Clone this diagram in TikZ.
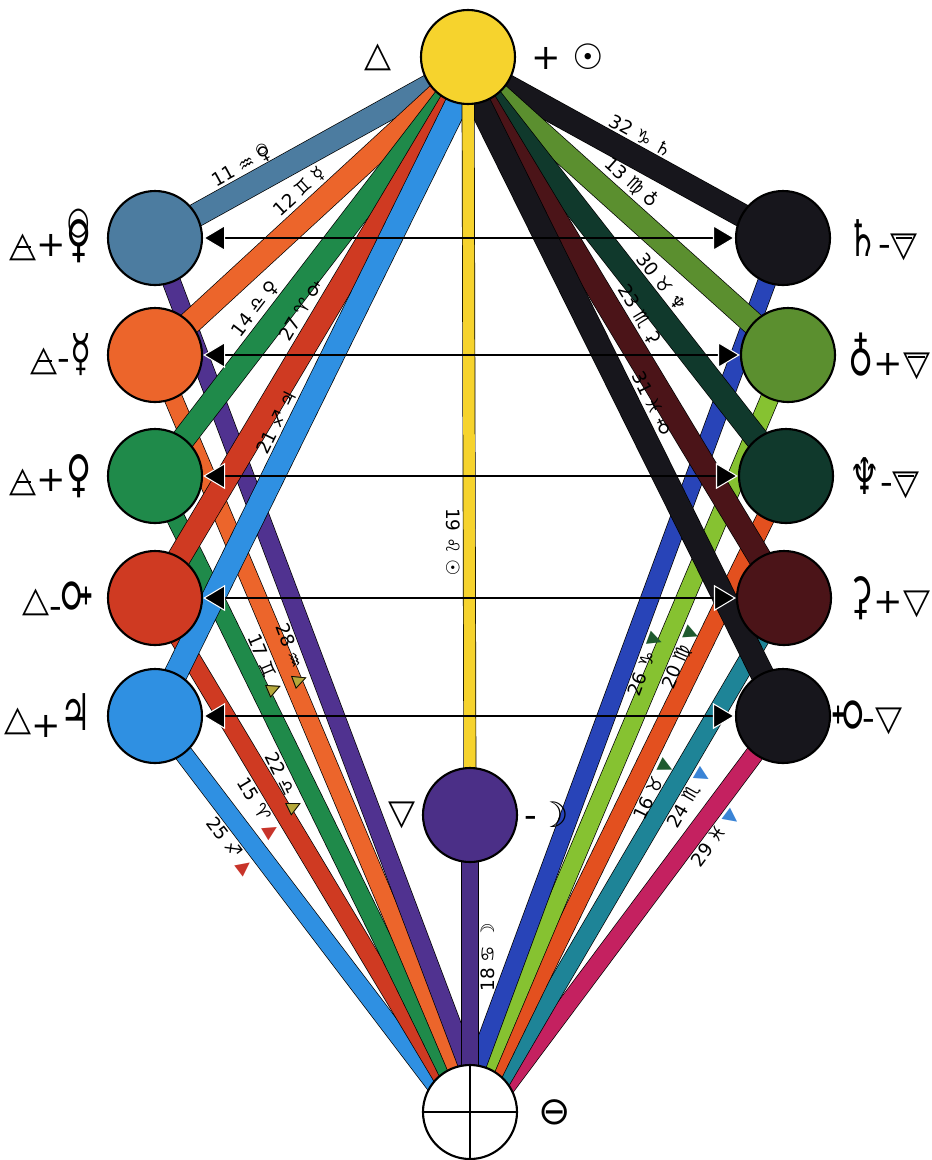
\documentclass[tikz,border=0pt]{standalone}
\usepackage{fontspec}
\setmainfont{DejaVu Sans}
\usepackage{graphicx}
\usetikzlibrary{arrows.meta,positioning,backgrounds}

\definecolor{sunyel}{HTML}{F6D32D}
\definecolor{steelc}{HTML}{4C7CA0}
\definecolor{orangec}{HTML}{EC652B}
\definecolor{greenc}{HTML}{1F8A4A}
\definecolor{redc}{HTML}{CF3A22}
\definecolor{skyc}{HTML}{2F90E2}
\definecolor{nightc}{HTML}{17161C}
\definecolor{olivec}{HTML}{5B8F2F}
\definecolor{pinec}{HTML}{10392C}
\definecolor{winec}{HTML}{4B1418}
\definecolor{moonc}{HTML}{4B2F87}
\definecolor{violetc}{HTML}{503290}
\definecolor{royalc}{HTML}{2844B8}
\definecolor{limec}{HTML}{86C231}
\definecolor{flamec}{HTML}{E3501F}
\definecolor{tealc}{HTML}{1E8497}
\definecolor{rosec}{HTML}{C42160}
\definecolor{airc}{HTML}{B5A83A}
\definecolor{firec}{HTML}{C8342A}
\definecolor{earthc}{HTML}{1E5A2E}
\definecolor{waterc}{HTML}{3A84D6}

\newcommand\airsym{\ooalign{△\cr\hidewidth\rule[.24em]{.42em}{.06em}\hidewidth\cr}}
\newcommand\earthsym{\ooalign{▽\cr\hidewidth\rule[.5em]{.46em}{.06em}\hidewidth\cr}}
\newcommand\bigglyph[1]{{\fontsize{23}{23}\selectfont\scalebox{.85}[1.25]{#1}}}
\newcommand\twoorb{\ooalign{♀\cr\hidewidth\raisebox{.45em}{\scalebox{.75}{○}}\kern.04em\hidewidth\cr}}
\newcommand\orbleft{\rotatebox[origin=c]{90}{♀}}
\newcommand\orbright{\rotatebox[origin=c]{-90}{♀}}
\newcommand\airtri{\ooalign{\textcolor{airc}{▲}\cr△}}
\newcommand\firetri{\textcolor{firec}{▲}}
\newcommand\earthtri{\textcolor{earthc}{▼}}
\newcommand\watertri{\textcolor{waterc}{▼}}

\begin{document}
\begin{tikzpicture}[
  x=0.2mm, y=0.2mm,
  >={Triangle[length=4.4mm, width=5.2mm, fill=black, color=white, line width=0.6pt]},
  orb/.style={circle, draw=black, line width=1.2pt, minimum size=18.8mm, inner sep=0pt, fill=#1},
  band/.style={draw=black, line width=0.4pt, double=#1, double distance=4.5mm},
  thinband/.style={draw=black, line width=0.4pt, double=#1, double distance=3.5mm},
  tag/.style={sloped, font=\fontsize{10.5}{10.5}\selectfont, inner sep=0.5pt, text=black},
  glyph/.style={font=\fontsize{20}{20}\selectfont, inner sep=0pt},
  link/.style={<->, line width=0.55mm}
]
\useasboundingbox (0,0) rectangle (932,-1160);

% the spheres
\node[orb=sunyel] (T) at (468,-57) {};
\node[orb=steelc] (L1) at (155,-238) {};
\node[orb=orangec] (L2) at (155,-355) {};
\node[orb=greenc] (L3) at (155,-476) {};
\node[orb=redc] (L4) at (155,-598) {};
\node[orb=skyc] (L5) at (155,-716) {};
\node[orb=nightc] (R1) at (783,-238) {};
\node[orb=olivec] (R2) at (788,-355) {};
\node[orb=pinec] (R3) at (786,-476) {};
\node[orb=winec] (R4) at (784,-598) {};
\node[orb=nightc] (R5) at (783,-716) {};
\node[orb=moonc] (M) at (470,-815) {};
\node[orb=white] (B) at (470,-1112) {};
\draw[line width=1pt] (B.north) -- (B.south) (B.west) -- (B.east);

% where the upper paths leave the sun sphere
\coordinate (a1) at (440,-80);
\coordinate (a2) at (445,-88);
\coordinate (a3) at (450,-92);
\coordinate (a4) at (455,-95);
\coordinate (a5) at (460,-97);
\coordinate (d1) at (496,-80);
\coordinate (d2) at (491,-88);
\coordinate (d3) at (486,-92);
\coordinate (d4) at (481,-95);
\coordinate (d5) at (476,-97);
% where the lower paths meet the earth sphere
\coordinate (b1) at (485,-1112);
\coordinate (b2) at (475,-1112);
\coordinate (b3) at (467,-1112);
\coordinate (b4) at (463,-1112);
\coordinate (b5) at (456,-1112);
\coordinate (c1) at (460,-1112);
\coordinate (c2) at (468,-1112);
\coordinate (c3) at (475,-1112);
\coordinate (c4) at (483,-1112);
\coordinate (c5) at (487,-1112);

% signs beside the spheres
\node[glyph, left=5.6mm of T] (tl) {△};
\node[glyph, right=3mm of T] (tr) {+ ☉};
\node[glyph, left=3mm of L1] (l1) {\airsym+\bigglyph{\twoorb}};
\node[glyph, left=3mm of L2] (l2) {\airsym-\bigglyph{☿}};
\node[glyph, left=3mm of L3] (l3) {\airsym+\bigglyph{♀}};
\node[glyph, left=3mm of L4] (l4) {△\raisebox{-.2em}{-}\bigglyph{\orbleft}};
\node[glyph, left=3mm of L5] (l5) {△\raisebox{-.2em}{+}\bigglyph{♃}};
\node[glyph, right=3.2mm of R1] (r1) {\bigglyph{♄}-\earthsym};
\node[glyph, right=2.4mm of R2] (r2) {\bigglyph{♁}+\earthsym};
\node[glyph, right=3mm of R3] (r3) {\bigglyph{♆}-\earthsym};
\node[glyph, right=3.2mm of R4] (r4) {\bigglyph{⚳}+▽};
\node[glyph, right=0.4mm of R5] (r5) {\bigglyph{\orbright}-▽};
\node[glyph, left=1.2mm of M] (ml) {▽};
\node[glyph, right=1.2mm of M] (mr) {-☽};
\node[glyph, right=4mm of B, font=\fontsize{22}{22}\selectfont] (br) {⊖};

\begin{scope}[on background layer]
% lower paths
\draw[thinband=skyc] (L5.center) -- node[tag, pos=.30, below=2mm] (p25) {25 ♐ \firetri} (b5);
\draw[thinband=redc] (L4.center) -- node[tag, pos=.39, below=2mm] (p15) {15 ♈ \firetri} (b4);
\draw[thinband=greenc] (L3.center) -- node[tag, pos=.47, below=2mm] (p22) {22 ♎ \airtri} (b3);
\draw[thinband=orangec] (L2.center) -- node[tag, pos=.40, below=2mm] (p17) {17 ♊ \airtri} (b2);
\draw[thinband=violetc] (L1.center) -- node[tag, pos=.47, below=2mm] (p28) {28 ♒ \airtri} (b1);
\draw[thinband=rosec] (R5.center) -- node[tag, pos=.28, below=2mm] (p29) {29 ♓ \watertri} (c5);
\draw[thinband=tealc] (R4.center) -- node[tag, pos=.37, below=2mm] (p24) {24 ♏ \watertri} (c4);
\draw[thinband=flamec] (R3.center) -- node[tag, pos=.48, below=2mm] (p16) {16 ♉ \earthtri} (c3);
\draw[thinband=limec] (R2.center) -- node[tag, pos=.39, below=2mm] (p20) {20 ♍ \earthtri} (c2);
\draw[thinband=royalc] (R1.center) -- node[tag, pos=.48, below=2mm] (p26) {26 ♑ \earthtri} (c1);
\draw[thinband=moonc, double distance=3.2mm] (B.center) -- node[tag, pos=.52, below=2mm] (p18) {18 ♋ ☽} (M.center);
% upper paths
\draw[band=steelc] (a1) -- node[tag, pos=.66, above=2.6mm] (p11) {11 ♒ \twoorb} (L1.center);
\draw[band=orangec] (a2) -- node[tag, pos=.45, above=2.6mm] (p12) {12 ♊ ☿} (L2.center);
\draw[band=greenc] (a3) -- node[tag, pos=.60, above=2.6mm] (p14) {14 ♎ ♀} (L3.center);
\draw[band=redc] (a4) -- node[tag, pos=.45, above=2.6mm] (p27) {27 ♈ \orbleft} (L4.center);
\draw[band=skyc] (a5) -- node[tag, pos=.54, above=2.6mm] (p21) {21 ♐ ♃} (L5.center);
\draw[band=nightc] (d1) -- node[tag, pos=.47, above=2.6mm] (p32) {32 ♑ ♄} (R1.center);
\draw[band=olivec] (d2) -- node[tag, pos=.42, above=2.6mm] (p13) {13 ♍ ♁} (R2.center);
\draw[band=pinec] (d3) -- node[tag, pos=.53, above=2.6mm] (p30) {30 ♉ ♆} (R3.center);
\draw[band=winec] (d4) -- node[tag, pos=.46, above=2.6mm] (p23) {23 ♏ ⚳} (R4.center);
\draw[band=nightc] (d5) -- node[tag, pos=.51, above=2.6mm] (p31) {31 ♓ \orbright} (R5.center);
\draw[band=sunyel, double distance=2.3mm] (M.center) -- node[tag, pos=.36, below=1.6mm] (p19) {19 ♌ ☉} (T.center);
\end{scope}

% the pairs
\draw[link] (L1) -- (R1);
\draw[link] (L2) -- (R2);
\draw[link] (L3) -- (R3);
\draw[link] (L4) -- (R4);
\draw[link] (L5) -- (R5);
\end{tikzpicture}
\end{document}
